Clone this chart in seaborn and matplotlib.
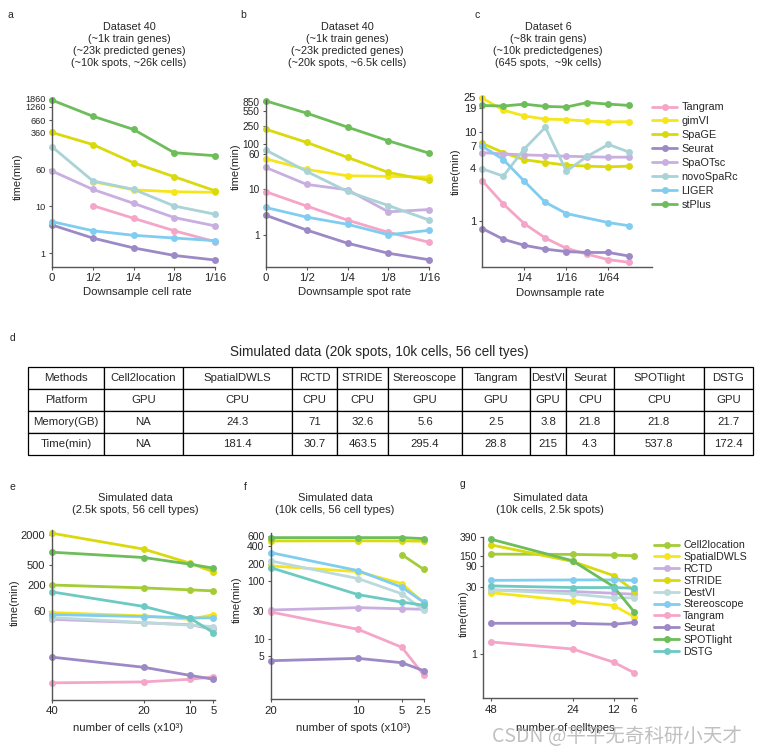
import numpy as np
import pandas as pd
import matplotlib
matplotlib.use("Agg")
import matplotlib.pyplot as plt
import seaborn as sns
from matplotlib.lines import Line2D
from matplotlib.ticker import NullLocator

nan = np.nan

# ---- panels a-c: imputation methods ----
imp_methods = ["Tangram", "gimVI", "SpaGE", "Seurat", "SpaOTsc", "novoSpaRc", "LIGER", "stPlus"]
imp_colors = ["#f5a6c8", "#f5e61c", "#d9d90b", "#9c89c6", "#c8afe0", "#a9d3d6", "#80cdf0", "#6dbd5a"]

a_xlabels = ["0", "1/2", "1/4", "1/8", "1/16"]
a_tangram = [nan, 10.2, 5.5, 3.0, 1.76]
a_gimvi = [nan, 33, 22, 20, 19.5]
a_spage = [360, 200, 82, 41.7, 21]
a_seurat = [3.97, 2.1, 1.3, 0.9, 0.72]
a_spaotsc = [55, 22.5, 11.4, 5.7, 3.8]
a_novosparc = [179, 34, 22.5, 10, 6.7]
a_liger = [4.67, 3.0, 2.4, 2.1, 1.85]
a_stplus = [1740, 795, 417, 134, 116]

b_xlabels = ["0", "1/2", "1/4", "1/8", "1/16"]
b_tangram = [8.9, 4.3, 2.1, 1.13, 0.68]
b_gimvi = [47.5, 27.6, 20, 19.4, 18.7]
b_spage = [214, 109, 51, 23.7, 15.8]
b_seurat = [2.7, 1.27, 0.65, 0.39, 0.28]
b_spaotsc = [30.6, 12.9, 9.8, 3.2, 3.6]
b_novosparc = [74, 25, 9.0, 4.4, 2.1]
b_liger = [4.0, 2.45, 1.7, 1.0, 1.25]
b_stplus = [900, 483, 237, 118, 63]

c_rates = ["1", "1/2", "1/4", "1/8", "1/16", "1/32", "1/64", "1/128"]
c_tangram = [2.84, 1.55, 0.93, 0.64, 0.49, 0.42, 0.365, 0.34]
c_gimvi = [24.3, 17.8, 15.3, 14.1, 13.9, 13.4, 13.1, 13.2]
c_spage = [7.5, 5.9, 4.9, 4.56, 4.26, 4.15, 4.08, 4.15]
c_seurat = [0.82, 0.62, 0.53, 0.48, 0.45, 0.44, 0.44, 0.40]
c_spaotsc = [5.9, 5.7, 5.56, 5.47, 5.37, 5.3, 5.24, 5.24]
c_novosparc = [3.87, 3.2, 6.5, 11.4, 3.65, 5.37, 7.3, 5.96]
c_liger = [6.96, 4.93, 2.8, 1.62, 1.21, nan, 0.957, 0.88]
c_stplus = [20.1, 19.8, 20.8, 19.6, 19.3, 21.7, 20.8, 20.1]

# ---- panel d: table ----
tbl_title = "Simulated data (20k spots, 10k cells, 56 cell tyes)"
tbl_methods = ["Methods", "Cell2location", "SpatialDWLS", "RCTD", "STRIDE", "Stereoscope",
               "Tangram", "DestVI", "Seurat", "SPOTlight", "DSTG"]
tbl_platform = ["Platform", "GPU", "CPU", "CPU", "CPU", "GPU", "GPU", "GPU", "CPU", "CPU", "GPU"]
tbl_memory = ["Memory(GB)", "NA", "24.3", "71", "32.6", "5.6", "2.5", "3.8", "21.8", "21.8", "21.7"]
tbl_time = ["Time(min)", "NA", "181.4", "30.7", "463.5", "295.4", "28.8", "215", "4.3", "537.8", "172.4"]

# ---- panels e-g: deconvolution methods ----
dec_methods = ["Cell2location", "SpatialDWLS", "RCTD", "STRIDE", "DestVI", "Stereoscope",
               "Tangram", "Seurat", "SPOTlight", "DSTG"]
dec_colors = ["#a3cc38", "#f5e61c", "#c8afe0", "#d9d90b", "#bcd9dc", "#80cdf0",
              "#f5a6c8", "#9c89c6", "#6dbd5a", "#6ccac2"]

e_cells = [40, 20, 10, 5]
e_cell2location = [199, 174, 159, 152]
e_spatialdwls = [56, 48, 41, 51]
e_rctd = [41, 35, 32, 26]
e_stride = [2160, 1033, 542, 364]
e_destvi = [44.5, 35.3, 31.2, 29.4]
e_stereoscope = [51, 46.5, 43.8, 43.8]
e_tangram = [2.2, 2.3, 2.6, 2.9]
e_seurat = [7.2, 4.5, 3.1, 2.6]
e_spotlight = [900, 704, 518, 431]
e_dstg = [145, 74, 43, 22.3]

f_spots = [20, 10, 5, 2.5]
f_cell2location = [nan, nan, 286, 159]
f_spatialdwls = [182, 145, 90, 42]
f_rctd = [31.4, 34.5, 33, 32.3]
f_stride = [494, 496, 494, 490]
f_destvi = [222, 110, 60, 31]
f_stereoscope = [310, 151, 78, 43]
f_tangram = [29, 14.5, 7.1, 2.34]
f_seurat = [4.15, 4.56, 3.83, 2.79]
f_spotlight = [564, 564, 564, 542]
f_dstg = [170, 58, 43, 38]

g_types = [48, 24, 12, 6]
g_cell2location = [164, 162, 156, 151]
g_spatialdwls = [23, 15, 11.9, 6.75]
g_rctd = [26.4, 24.3, 22.3, 21.2]
g_stride = [264, 113, 55, 25.5]
g_destvi = [26.4, 21.5, 17.6, 17.6]
g_stereoscope = [43, 44, 44, 43]
g_tangram = [1.85, 1.29, 0.66, 0.385]
g_seurat = [4.8, 4.8, 4.56, 5.0]
g_spotlight = [353, 117, 31.3, 8.7]
g_dstg = [32.4, 29.8, 29.8, 28.8]

sns.set_style("ticks")
plt.rcParams["font.family"] = ["Liberation Sans", "DejaVu Sans"]

W, H = 758, 755
fig = plt.figure(figsize=(W / 100, H / 100), dpi=100)


def add_ax(left, top, right, bottom):
    # pixel box -> figure fraction
    return fig.add_axes([left / W, 1 - bottom / H, (right - left) / W, (bottom - top) / H])


def fx(px):
    return px / W


def fy(py):
    return 1 - py / H


def draw(ax, x, names, values, colors):
    df = pd.DataFrame(dict(zip(names, values)))
    df["x"] = x
    long = df.melt(id_vars="x", var_name="method", value_name="time").dropna()
    sns.lineplot(data=long, x="x", y="time", hue="method", hue_order=names,
                 palette=dict(zip(names, colors)), marker="o", markersize=5,
                 markeredgewidth=0, linewidth=2.0, estimator=None, legend=False, ax=ax)
    for ln in ax.lines:
        ln.set_clip_on(False)
    ax.set_yscale("log")
    ax.yaxis.set_minor_locator(NullLocator())
    ax.xaxis.set_minor_locator(NullLocator())
    for s in ["top", "right"]:
        ax.spines[s].set_visible(False)
    for s in ["left", "bottom"]:
        ax.spines[s].set_color("#555555")
        ax.spines[s].set_linewidth(1.0)
    ax.tick_params(length=2.5, width=0.8, color="#555555", labelsize=8.2, pad=2)


def style(ax, yticks, ylim, xlim, ylab_xy, xlabel, xlab_xy, ytick_size=8.0):
    ax.set_ylim(*ylim)
    ax.set_xlim(*xlim)
    ax.set_yticks(yticks)
    ax.set_yticklabels([str(t) for t in yticks], fontsize=ytick_size)
    ax.set_ylabel("time(min)", fontsize=8)
    # y label is anchored by its right edge, so shift by half its height
    ax.yaxis.set_label_coords(fx(ylab_xy[0] + 5.5), fy(ylab_xy[1]), transform=fig.transFigure)
    ax.set_xlabel(xlabel, fontsize=8.2, va="center")
    ax.xaxis.set_label_coords(fx(xlab_xy[0]), fy(xlab_xy[1]), transform=fig.transFigure)


imp_a = [a_tangram, a_gimvi, a_spage, a_seurat, a_spaotsc, a_novosparc, a_liger, a_stplus]
imp_b = [b_tangram, b_gimvi, b_spage, b_seurat, b_spaotsc, b_novosparc, b_liger, b_stplus]
imp_c = [c_tangram, c_gimvi, c_spage, c_seurat, c_spaotsc, c_novosparc, c_liger, c_stplus]

# panel a
ax_a = add_ax(52, 98.3, 215, 266.7)
draw(ax_a, np.arange(len(a_xlabels)), imp_methods, imp_a, imp_colors)
style(ax_a, [1, 10, 60, 360, 660, 1260, 1860], (0.52, 1900), (0, 4), (17, 177),
      "Downsample cell rate", (137, 292), ytick_size=6.6)
ax_a.set_xticks(np.arange(len(a_xlabels)))
ax_a.set_xticklabels(a_xlabels)

# panel b
ax_b = add_ax(265.7, 99.8, 429.3, 266.7)
draw(ax_b, np.arange(len(b_xlabels)), imp_methods, imp_b, imp_colors)
style(ax_b, [1, 10, 60, 100, 250, 550, 850], (0.197, 950), (0, 4), (235, 167),
      "Downsample spot rate", (355, 292), ytick_size=7.3)
ax_b.set_xticks(np.arange(len(b_xlabels)))
ax_b.set_xticklabels(b_xlabels)

# panel c
ax_c = add_ax(482.3, 96.3, 651.7, 266.7)
draw(ax_c, np.arange(len(c_rates)), imp_methods, imp_c, imp_colors)
style(ax_c, [1, 4, 7, 10, 19, 25], (0.304, 25.5), (0, 8.06), (455, 172),
      "Downsample rate", (560, 292.5))
ax_c.set_xticks([2, 4, 6])
ax_c.set_xticklabels([c_rates[2], c_rates[4], c_rates[6]])

imp_handles = [Line2D([], [], color=c, marker="o", markersize=5, markeredgewidth=0, lw=2.0)
               for c in imp_colors]
ax_c.legend(imp_handles, imp_methods, loc="upper left", bbox_to_anchor=(fx(648), fy(98)),
            bbox_transform=fig.transFigure, frameon=False, fontsize=7.8,
            handlelength=2.3, handletextpad=0.4, labelspacing=0.36, borderaxespad=0)

# titles a-c
fig.text(fx(129), fy(45), "Dataset 40\n(~1k train genes)\n(~23k predicted genes)\n(~10k spots, ~26k cells)",
         ha="center", va="center", fontsize=7.8, linespacing=1.28)
fig.text(fx(347), fy(45), "Dataset 40\n(~1k train genes)\n(~23k predicted genes)\n(~20k spots, ~6.5k cells)",
         ha="center", va="center", fontsize=7.8, linespacing=1.28)
fig.text(fx(548), fy(45), "Dataset 6\n(~8k train gens)\n(~10k predictedgenes)\n(645 spots,  ~9k cells)",
         ha="center", va="center", fontsize=7.8, linespacing=1.28)

# panel d table
fig.text(fx(379), fy(352), tbl_title, ha="center", va="center", fontsize=9.8)
col_edges = [28, 104, 183, 292, 337, 388, 462, 530, 566, 614, 704, 753]
ax_d = add_ax(28, 367, 753, 455)
ax_d.axis("off")
widths = np.diff(col_edges) / (col_edges[-1] - col_edges[0])
tbl = ax_d.table(cellText=[tbl_methods, tbl_platform, tbl_memory, tbl_time],
                 colWidths=widths, cellLoc="center", bbox=[0, 0, 1, 1])
tbl.auto_set_font_size(False)
for cell in tbl.get_celld().values():
    cell.set_linewidth(0.9)
    cell.set_edgecolor("black")
    cell.get_text().set_fontsize(8.2)

# panels e-g
dec_e = [e_cell2location, e_spatialdwls, e_rctd, e_stride, e_destvi, e_stereoscope,
         e_tangram, e_seurat, e_spotlight, e_dstg]
dec_f = [f_cell2location, f_spatialdwls, f_rctd, f_stride, f_destvi, f_stereoscope,
         f_tangram, f_seurat, f_spotlight, f_dstg]
dec_g = [g_cell2location, g_spatialdwls, g_rctd, g_stride, g_destvi, g_stereoscope,
         g_tangram, g_seurat, g_spotlight, g_dstg]

ax_e = add_ax(51.7, 530, 215, 700)
draw(ax_e, e_cells, dec_methods, dec_e, dec_colors)
style(ax_e, [60, 200, 500, 2000], (1.0, 2500), (40, 4.63), (14, 603),
      "number of cells (x10³)", (128, 728))
ax_e.set_xticks(e_cells)
ax_e.set_xticklabels([str(v) for v in e_cells])

ax_f = add_ax(270.7, 533.3, 424.3, 699.3)
draw(ax_f, f_spots, dec_methods, dec_f, dec_colors)
style(ax_f, [5, 10, 30, 100, 200, 400, 600], (0.89, 670), (20, 2.43), (236, 600),
      "number of spots (x10³)", (353, 728), ytick_size=7.5)
ax_f.set_xticks(f_spots)
ax_f.set_xticklabels(["20", "10", "5", "2.5"])

ax_g = add_ax(483.3, 536.7, 636.7, 698.3)
draw(ax_g, g_types, dec_methods, dec_g, dec_colors)
style(ax_g, [1, 30, 90, 150, 390], (0.104, 400), (50.2, 5.2), (463, 614),
      "number of celltypes", (565, 728), ytick_size=7.5)
ax_g.set_xticks(g_types)
ax_g.set_xticklabels([str(v) for v in g_types])

dec_handles = [Line2D([], [], color=c, marker="o", markersize=5, markeredgewidth=0, lw=2.0)
               for c in dec_colors]
ax_g.legend(dec_handles, dec_methods, loc="upper left", bbox_to_anchor=(fx(650), fy(536)),
            bbox_transform=fig.transFigure, frameon=False, fontsize=7.7,
            handlelength=2.3, handletextpad=0.4, labelspacing=0.17, borderaxespad=0)

fig.text(fx(135), fy(504), "Simulated data\n(2.5k spots, 56 cell types)", ha="center", va="center",
         fontsize=8.0, linespacing=1.2)
fig.text(fx(335), fy(504), "Simulated data\n(10k cells, 56 cell types)", ha="center", va="center",
         fontsize=8.0, linespacing=1.2)
fig.text(fx(550), fy(504), "Simulated data\n(10k cells, 2.5k spots)", ha="center", va="center",
         fontsize=8.0, linespacing=1.2)

# panel letters
for letter, (px, py) in zip("abcdefg", [(10, 15), (243, 15), (477, 15), (12, 338),
                                        (12, 487), (245, 487), (463, 484)]):
    fig.text(fx(px), fy(py), letter, ha="center", va="center", fontsize=7.5)

# watermark
fig.text(fx(742), fy(737), "CSDN @平平无奇科研小天才", ha="right", va="center", fontsize=14,
         color="#b5b5b5", alpha=0.85, family=["Noto Sans CJK SC", "DejaVu Sans"])

fig.savefig("out.png", dpi=100)
